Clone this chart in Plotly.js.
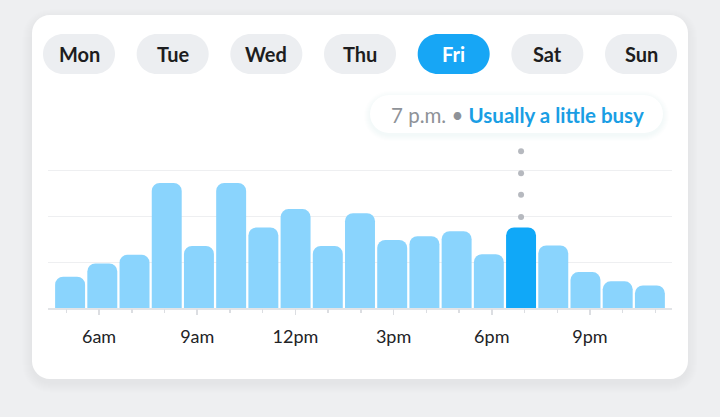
<!DOCTYPE html>
<html><head><meta charset="utf-8">
<script src="https://cdn.plot.ly/plotly-3.0.1.min.js"></script>
<style>html,body{margin:0;padding:0;background:#eeeff1;} #chart{width:720px;height:417px;}</style>
</head><body><div id="chart"></div>
<script>
// ---- data ----
const hours = ['5am','6am','7am','8am','9am','10am','11am','12pm','1pm','2pm','3pm','4pm','5pm','6pm','7pm','8pm','9pm','10pm','11pm'];
const busyness = [0.68,0.97,1.16,2.72,1.35,2.72,1.75,2.15,1.35,2.06,1.48,1.56,1.67,1.17,1.75,1.36,0.78,0.58,0.49];
const selectedHour = '7pm';
const days = ['Mon','Tue','Wed','Thu','Fri','Sat','Sun'];
const selectedDay = 'Fri';
const tickHourIdx = [1,4,7,10,13,16];
const tickLabels = ['6am','9am','12pm','3pm','6pm','9pm'];
const pointerDots = [1.98,2.46,2.93,3.41];
const tooltipTime = '7 p.m.';
const tooltipStatus = 'Usually a little busy';

// ---- helpers (pixel -> paper) ----
const W = 720, H = 417;
const px = x => x / W;
const py = y => 1 - y / H;
function rr(x0, y0, x1, y1, r) {
  const k = 0.5523 * r;
  const P = (x, y) => px(x).toFixed(5) + ',' + py(y).toFixed(5);
  return 'M' + P(x0 + r, y0) + ' L' + P(x1 - r, y0) +
    ' C' + P(x1 - r + k, y0) + ' ' + P(x1, y0 + r - k) + ' ' + P(x1, y0 + r) +
    ' L' + P(x1, y1 - r) +
    ' C' + P(x1, y1 - r + k) + ' ' + P(x1 - r + k, y1) + ' ' + P(x1 - r, y1) +
    ' L' + P(x0 + r, y1) +
    ' C' + P(x0 + r - k, y1) + ' ' + P(x0, y1 - r + k) + ' ' + P(x0, y1 - r) +
    ' L' + P(x0, y0 + r) +
    ' C' + P(x0, y0 + r - k) + ' ' + P(x0 + r - k, y0) + ' ' + P(x0 + r, y0) + ' Z';
}
function shape(path, fill) {
  return {type: 'path', xref: 'paper', yref: 'paper', path: path, fillcolor: fill, line: {width: 0}, layer: 'below'};
}

const shapes = [];
// card shadow
for (let i = 1; i <= 10; i++) {
  shapes.push(shape(rr(32 - i, 15 - i + 4, 688 + i, 379 + i + 4, 18 + i), 'rgba(60,70,90,0.004)'));
}
// card
shapes.push(shape(rr(32, 15, 688, 379, 18), '#ffffff'));
// day pills
const annotations = [];
days.forEach((d, i) => {
  const cx = 79 + i * 93.67;
  const sel = d === selectedDay;
  shapes.push(shape(rr(cx - 36, 34, cx + 36, 74, 20), sel ? '#17a6f5' : '#eceef1'));
  annotations.push({
    xref: 'paper', yref: 'paper', x: px(cx), y: py(54.5), xanchor: 'center', yanchor: 'middle',
    text: '<b>' + d + '</b>', showarrow: false,
    font: {family: 'Lato, sans-serif', size: 20, color: sel ? '#ffffff' : '#1d1d20'}
  });
});
// tooltip shadow + body
for (let i = 1; i <= 6; i++) {
  shapes.push(shape(rr(370 - i, 95 - i + 2, 663 + i, 133 + i + 2, 19 + i), 'rgba(60,70,90,0.009)'));
}
shapes.push(shape(rr(370, 95, 663, 133, 19), '#ffffff'));
annotations.push({
  xref: 'paper', yref: 'paper', x: px(517.5), y: py(115), xanchor: 'center', yanchor: 'middle',
  showarrow: false,
  text: '<span style="color:#8e9298">' + tooltipTime + ' \u2022 </span><span style="color:#1a9ee4"><b>' + tooltipStatus + '</b></span>',
  font: {family: 'Lato, sans-serif', size: 20.5, color: '#8e9298'}
});

const barColors = hours.map(h => h === selectedHour ? '#10a8f8' : '#8ad4fd');

const traces = [
  {
    type: 'bar', x: hours, y: busyness, xaxis: 'x', yaxis: 'y',
    marker: {color: barColors, cornerradius: 8, line: {width: 0}},
    hoverinfo: 'skip'
  },
  {
    type: 'scatter', mode: 'markers', xaxis: 'x', yaxis: 'y',
    x: pointerDots.map(() => selectedHour), y: pointerDots,
    marker: {size: 6, color: '#b6b9bf'}, hoverinfo: 'skip', cliponaxis: false
  },
  // empty trace so the hour-tick axis is drawn
  {type: 'scatter', mode: 'none', xaxis: 'x2', yaxis: 'y', x: [], y: [], hoverinfo: 'skip'}
];

const layout = {
  width: W, height: H,
  margin: {l: 0, r: 0, t: 0, b: 0, pad: 0},
  paper_bgcolor: '#eeeff1', plot_bgcolor: 'rgba(0,0,0,0)',
  showlegend: false,
  bargap: 0.07,
  xaxis: {
    type: 'category', domain: [48 / 720, 672 / 720], range: [-0.686, 18.686],
    showticklabels: false, ticks: '', showgrid: false, zeroline: false,
    showline: true, linecolor: '#e2e4e7', linewidth: 1.5, anchor: 'y', fixedrange: true
  },
  xaxis2: {
    type: 'linear', overlaying: 'x', anchor: 'y', side: 'bottom',
    range: [-0.559, 18.506], autorange: false,
    tickmode: 'array', tickvals: tickHourIdx, ticktext: tickLabels,
    ticks: 'outside', ticklen: 6, tickwidth: 1.5, tickcolor: '#dcdee2',
    ticklabelstandoff: 6,
    minor: {tickmode: 'linear', tick0: 0, dtick: 1, ticks: 'outside', ticklen: 4, tickwidth: 1.5, tickcolor: '#dcdee2', showgrid: false},
    tickfont: {family: 'Lato, sans-serif', size: 18, color: '#222326'},
    showgrid: false, zeroline: false, showline: false, fixedrange: true
  },
  yaxis: {
    domain: [(417 - 308) / 417, (417 - 124) / 417], range: [0, 4],
    dtick: 1, showgrid: true, gridcolor: '#eeeff1', gridwidth: 1,
    showticklabels: false, ticks: '', zeroline: false, showline: false, fixedrange: true
  },
  shapes: shapes,
  annotations: annotations
};

Plotly.newPlot('chart', traces, layout, {staticPlot: true, displayModeBar: false});
</script>
</body></html>
